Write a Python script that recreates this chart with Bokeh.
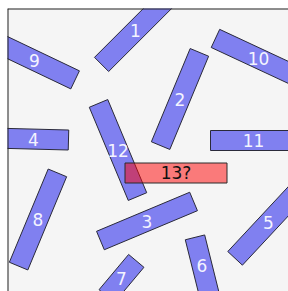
from bokeh.plotting import figure
from bokeh.models import Range1d, Span, ColumnDataSource
from bokeh.core.properties import value
from bokeh.embed import file_html
from bokeh.resources import INLINE

# stick data (plot units: 1 unit = 1 px, origin bottom-left of frame)
labels = ["1", "2", "3", "4", "5", "6", "7", "8", "9", "10", "11", "12"]
cx = [127, 171.5, 138.5, 25, 260, 193.5, 113, 29.5, 26, 250, 245, 109.5]
cy = [261, 192.5, 70.5, 152.4, 69, 26, 13, 72, 231, 233, 151, 141.5]
length = [96, 101, 101, 70, 98, 58, 46, 101, 90, 95, 86, 101]
angle = [45, 67.4, 22.75, -1.5, 47, -76, 50, 67.4, -25.5, -25, 0, -67.3]

# the candidate stick
q_label = ["13?"]
q_x = [167.5]
q_y = [118.5]
q_len = [102]
q_angle = [0]

THICK = 20

p = figure(width=288, height=291, output_backend="svg", toolbar_location=None,
           x_range=Range1d(-1, 280), y_range=Range1d(0, 283),
           x_axis_location=None, y_axis_location=None,
           min_border_left=7, min_border_top=8, min_border_right=0, min_border_bottom=0,
           background_fill_color="#f5f5f5", border_fill_color="white",
           outline_line_color=None)
p.xgrid.visible = False
p.ygrid.visible = False

src = ColumnDataSource(dict(x=cx, y=cy, w=length, a=angle, t=labels))
p.rect(x="x", y="y", width="w", height=THICK, angle="a", angle_units="deg",
       source=src, fill_color="#8080f0", line_color="#2a2a3a", line_width=1)
p.text(x="x", y="y", text="t", source=src, text_align="center", text_baseline="middle",
       text_color="#f4f4ff", text_font_size="17px", text_font=value("DejaVu Sans"))

qsrc = ColumnDataSource(dict(x=q_x, y=q_y, w=q_len, a=q_angle, t=q_label))
p.rect(x="x", y="y", width="w", height=THICK, angle="a", angle_units="deg",
       source=qsrc, fill_color="red", fill_alpha=0.5, line_color="#2a2a2a", line_width=1)
p.text(x="x", y="y", text="t", source=qsrc, text_align="center", text_baseline="middle",
       text_color="#111111", text_font_size="17px", text_font=value("DejaVu Sans"))

p.add_layout(Span(location=-1, dimension="height", line_color="#222222", line_width=2))
p.add_layout(Span(location=283, dimension="width", line_color="#222222", line_width=2))

open("out.html", "w").write(file_html(p, INLINE))
